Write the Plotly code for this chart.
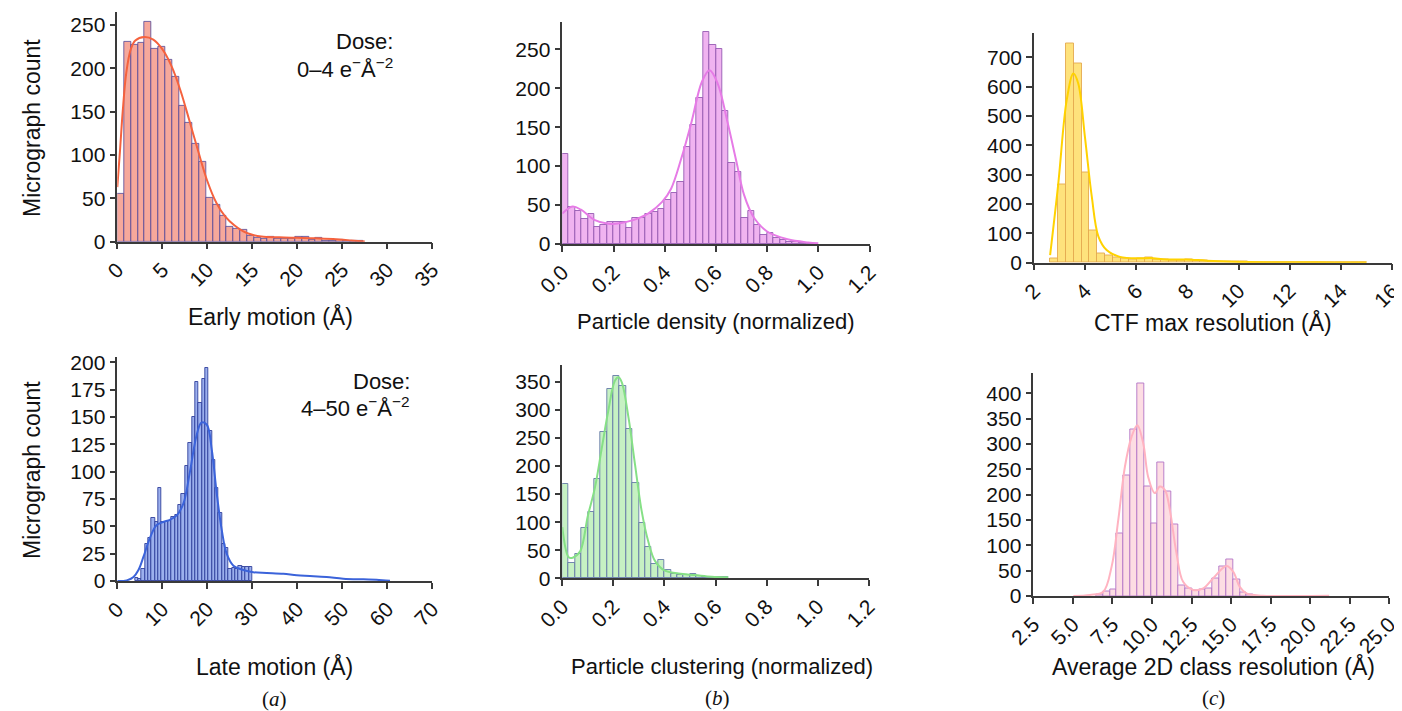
import numpy as np
import plotly.graph_objects as go

W, H = 1402, 711
OFF = 8  # page body margin in the browser
FW, FH = W - OFF, H - OFF

# ---------------- DATA ----------------
# (a) top: Early motion
early_bin_start = 0.0
early_bin_width = 0.76
early_counts = [55, 230, 227, 229, 253, 222, 225, 210, 190, 157, 137, 113, 92, 51, 43, 30, 17, 15,
                14, 7, 4, 3, 6, 3.5, 3.5, 3, 6, 5, 2, 4, 1, 1, 2, 1, 0.5, 1]
early_kde_x = [0, 0.3, 0.6, 1.0, 1.5, 2.0, 3.0, 4.0, 5.0, 6.0, 7.0, 8.0, 9.0, 10, 11, 12, 13, 14, 15, 16,
               18, 20, 22, 24, 26, 27.5]
early_kde_y = [63, 105, 150, 195, 222, 232, 236, 233, 222, 203, 175, 140, 104, 70, 45, 29, 19, 12, 8, 6,
               5, 4.5, 4, 3, 1.5, 0.3]

# (a) bottom: Late motion
late_bin_start = 3.9
late_bin_width = 0.745
late_counts = [3, 2, 11, 34, 39, 58, 54, 85, 54, 54, 55, 59, 60, 70, 80, 105, 126, 150, 182, 163, 185,
               195, 137, 111, 85, 62, 34, 30, 11, 12, 11, 14, 13, 13, 13]
late_kde_x = [0, 2.1, 3.6, 4.7, 5.8, 7.3, 8.7, 10.2, 11.7, 13.2, 14.7, 16.1, 17.6, 18.7, 19.9, 21.0, 22.1,
              23.2, 24.3, 25.8, 28, 30.2, 33.2, 36.9, 39.9, 42.8, 46.5, 50.2, 54.7, 57.6, 60.6]
late_kde_y = [0, 0.6, 3.7, 10, 22, 40, 51, 54, 56, 60, 71, 99, 133, 145, 143, 120, 80,
              47, 25, 14, 10, 8, 7.4, 6.7, 5.2, 4.6, 3.7, 2.1, 1.5, 1.2, 0.3]

# (b) top: Particle density
dens_bin_start = 0.0
dens_bin_width = 0.025
dens_counts = [116, 47, 43, 32, 38, 22, 24, 28, 28, 28, 21, 34, 34, 38, 41, 45, 56, 66, 80, 125, 153,
               187, 272, 255, 250, 171, 104, 93, 34, 42, 25, 12, 14, 8, 5, 3, 2, 1, 1, 0.5]
dens_kde_x = [0.0, 0.04, 0.073, 0.125, 0.18, 0.23, 0.28, 0.335, 0.39, 0.425, 0.465, 0.505, 0.545,
              0.575, 0.607, 0.645, 0.68, 0.71, 0.75, 0.80, 0.88, 0.96, 1.0]
dens_kde_y = [39, 48, 44, 31, 26, 27, 31, 39, 54, 71, 110, 157, 208, 223, 206, 157, 106, 63, 33, 16,
              6, 2, 1]

# (b) bottom: Particle clustering
clus_bin_start = 0.0
clus_bin_width = 0.025
clus_counts = [168, 28, 44, 89, 118, 177, 261, 338, 361, 343, 266, 169, 99, 56, 26, 32, 15, 8.5, 6,
               6, 8.5, 4, 3, 2, 2, 1.5]
clus_kde_x = [0.0, 0.026, 0.043, 0.07, 0.1, 0.128, 0.154, 0.18, 0.206, 0.22, 0.233, 0.259, 0.285,
              0.31, 0.337, 0.363, 0.40, 0.455, 0.52, 0.585, 0.65]
clus_kde_y = [91, 37, 37, 48, 111, 162, 230, 298, 352, 358, 349, 287, 202, 122, 65, 31, 14, 8.5,
              5.7, 2.8, 1.7]

# (c) top: CTF max resolution
ctf_bin_start = 2.62
ctf_bin_width = 0.31
ctf_counts = [15, 268, 748, 680, 309, 111, 32, 26, 18, 14, 11, 14, 17, 12.5, 11, 9, 8, 12.5, 7, 6,
              5, 5.7, 4.5, 3, 2.5, 2, 2, 1.5, 1.5, 1, 1, 1.5, 1, 1, 1, 0.5, 1, 0.5, 0.5, 1]
ctf_kde_x = [2.63, 2.95, 3.28, 3.54, 3.73, 3.99, 4.26, 4.52, 4.84, 5.36, 6.15, 6.54, 7.19, 7.97,
             8.75, 9.8, 11.1, 12.4, 13.7, 15.0]
ctf_kde_y = [26, 270, 555, 645, 611, 430, 225, 89, 43, 20, 15, 16, 11, 11, 7, 3.4, 1.5, 1.5, 1, 0.5]

# (c) bottom: Average 2D class resolution
cls_bin_start = 6.48
cls_bin_width = 0.432
cls_counts = [2, 8, 13, 124, 237, 329, 420, 216, 143, 264, 207, 141, 20, 14, 10.5, 13, 15, 35, 58,
              72, 33, 7, 2]
cls_kde_x = [5.03, 6.08, 6.92, 7.45, 7.87, 8.29, 8.71, 9.07, 9.45, 9.76, 10.18, 10.5, 10.82, 11.13,
             11.55, 11.97, 12.6, 13.24, 13.87, 14.71, 15.13, 15.55, 15.97, 17.0, 19.1, 21.2]
cls_kde_y = [0, 2, 8.5, 58, 150, 255, 314, 337, 301, 235, 203, 216, 209, 170, 84, 28, 12, 15, 35,
             59, 48, 18, 5, 0.7, 0, 0.5]

# tick labels
early_xticks = [0, 5, 10, 15, 20, 25, 30, 35]
late_xticks = [0, 10, 20, 30, 40, 50, 60, 70]
norm_xticks = [0.0, 0.2, 0.4, 0.6, 0.8, 1.0, 1.2]
ctf_xticks = [2, 4, 6, 8, 10, 12, 14, 16]
cls_xticks = [2.5, 5.0, 7.5, 10.0, 12.5, 15.0, 17.5, 20.0, 22.5, 25.0]
early_yticks = [0, 50, 100, 150, 200, 250]
dens_yticks = [0, 50, 100, 150, 200, 250]
ctf_yticks = [0, 100, 200, 300, 400, 500, 600, 700]
late_yticks = [0, 25, 50, 75, 100, 125, 150, 175, 200]
clus_yticks = [0, 50, 100, 150, 200, 250, 300, 350]
cls_yticks = [0, 50, 100, 150, 200, 250, 300, 350, 400]

# ---------------- PANELS ----------------
FONT = "Liberation Sans, Arial, sans-serif"
panels = [
    dict(start=early_bin_start, width=early_bin_width, counts=early_counts,
         kx=early_kde_x, ky=early_kde_y, fill="#F6A89B", edge="rgba(80,70,150,0.8)",
         kde="#F5623E", xr=[0, 35], yr=[0, 265], xt=early_xticks, xtt=[str(v) for v in early_xticks],
         yt=early_yticks, box=(117.3, 432.3, 241.7, 11.9)),
    dict(start=dens_bin_start, width=dens_bin_width, counts=dens_counts,
         kx=dens_kde_x, ky=dens_kde_y, fill="#F0B3F0", edge="rgba(145,85,175,0.85)",
         kde="#E67BE6", xr=[0, 1.2], yr=[0, 285], xt=norm_xticks, xtt=[f"{v:.1f}" for v in norm_xticks],
         yt=dens_yticks, box=(562.3, 869.5, 244.0, 22.0)),
    dict(start=ctf_bin_start, width=ctf_bin_width, counts=ctf_counts,
         kx=ctf_kde_x, ky=ctf_kde_y, fill="#FEE27C", edge="rgba(228,170,80,0.9)",
         kde="#FFD200", xr=[2, 16], yr=[0, 785], xt=ctf_xticks, xtt=[str(v) for v in ctf_xticks],
         yt=ctf_yticks, box=(1034.0, 1392.0, 262.7, 32.5)),
    dict(start=late_bin_start, width=late_bin_width, counts=late_counts,
         kx=late_kde_x, ky=late_kde_y, fill="#9CB0EE", edge="rgba(40,55,150,0.85)",
         kde="#3B63DA", xr=[0, 70], yr=[0, 205], xt=late_xticks, xtt=[str(v) for v in late_xticks],
         yt=late_yticks, box=(117.3, 432.3, 581.0, 357.0)),
    dict(start=clus_bin_start, width=clus_bin_width, counts=clus_counts,
         kx=clus_kde_x, ky=clus_kde_y, fill="#C6F1C3", edge="rgba(95,115,165,0.85)",
         kde="#86E086", xr=[0, 1.2], yr=[0, 380], xt=norm_xticks, xtt=[f"{v:.1f}" for v in norm_xticks],
         yt=clus_yticks, box=(562.3, 868.7, 578.3, 365.0)),
    dict(start=cls_bin_start, width=cls_bin_width, counts=cls_counts,
         kx=cls_kde_x, ky=cls_kde_y, fill="#FDDDE3", edge="rgba(178,115,198,0.9)",
         kde="#FFB3C1", xr=[2.5, 25], yr=[0, 441], xt=cls_xticks, xtt=[f"{v:.1f}" for v in cls_xticks],
         yt=cls_yticks, box=(1033.3, 1389.3, 596.0, 372.5)),
]

def fx(px):
    return (px - OFF) / FW

def fy(py):
    return 1 - (py - OFF) / FH

fig = go.Figure()
layout = {}
for i, p in enumerate(panels, 1):
    sx = "" if i == 1 else str(i)
    centers = p["start"] + p["width"] * (np.arange(len(p["counts"])) + 0.5)
    fig.add_trace(go.Bar(x=centers, y=p["counts"], width=p["width"],
                         marker=dict(color=p["fill"], line=dict(color=p["edge"], width=1)),
                         xaxis="x" + sx, yaxis="y" + sx, showlegend=False, hoverinfo="skip"))
    fig.add_trace(go.Scatter(x=p["kx"], y=p["ky"], mode="lines",
                             line=dict(color=p["kde"], width=2, shape="spline", smoothing=1.0),
                             xaxis="x" + sx, yaxis="y" + sx, showlegend=False, hoverinfo="skip"))
    x0, x1, yb, yt = p["box"]
    common = dict(showline=True, linecolor="#3a3a3a", linewidth=1.5, ticks="outside", ticklen=6,
                  tickwidth=1.5, tickcolor="#3a3a3a", showgrid=False, zeroline=False,
                  automargin=False, ticklabeloverflow="allow",
                  tickfont=dict(family=FONT, size=21, color="#111"))
    layout["xaxis" + sx] = dict(domain=[fx(x0), fx(x1)], range=p["xr"], anchor="y" + sx,
                                tickvals=p["xt"], ticktext=p["xtt"], tickangle=-45, **common)
    layout["yaxis" + sx] = dict(domain=[fy(yb), fy(yt)], range=p["yr"], anchor="x" + sx,
                                tickvals=p["yt"], ticktext=[str(v) for v in p["yt"]], **common)

ann = []
def text(x, y, s, size=23, xanchor="center", angle=0, family=FONT):
    ann.append(dict(x=fx(x), y=fy(y), xref="paper", yref="paper", text=s, showarrow=False,
                    xanchor=xanchor, yanchor="middle", textangle=angle,
                    font=dict(family=family, size=size, color="#111")))

text(270, 316, "Early motion (Å)")
text(716, 321, "Particle density (normalized)", size=22)
text(1213, 322, "CTF max resolution (Å)")
text(274, 666, "Late motion (Å)")
text(722, 666, "Particle clustering (normalized)", size=22)
text(1213, 666, "Average 2D class resolution (Å)")
text(32, 128, "Micrograph count", angle=-90)
text(32, 470, "Micrograph count", angle=-90)
SERIF = "Liberation Serif, Times New Roman, serif"
text(274, 699, "(<i>a</i>)", size=21, family=SERIF)
text(718, 698, "(<i>b</i>)", size=21, family=SERIF)
text(1213, 698, "(<i>c</i>)", size=21, family=SERIF)
text(395, 42, "Dose:", xanchor="right", size=22)
text(395, 68, "0–4 e<sup>−</sup>Å<sup>−2</sup>", xanchor="right", size=22)
text(412, 381, "Dose:", xanchor="right", size=22)
text(412, 407, "4–50 e<sup>−</sup>Å<sup>−2</sup>", xanchor="right", size=22)

fig.update_layout(width=FW, height=FH, margin=dict(l=0, r=0, t=0, b=0), paper_bgcolor="white",
                  plot_bgcolor="white", bargap=0, annotations=ann, **layout)
fig.write_html("out.html")
